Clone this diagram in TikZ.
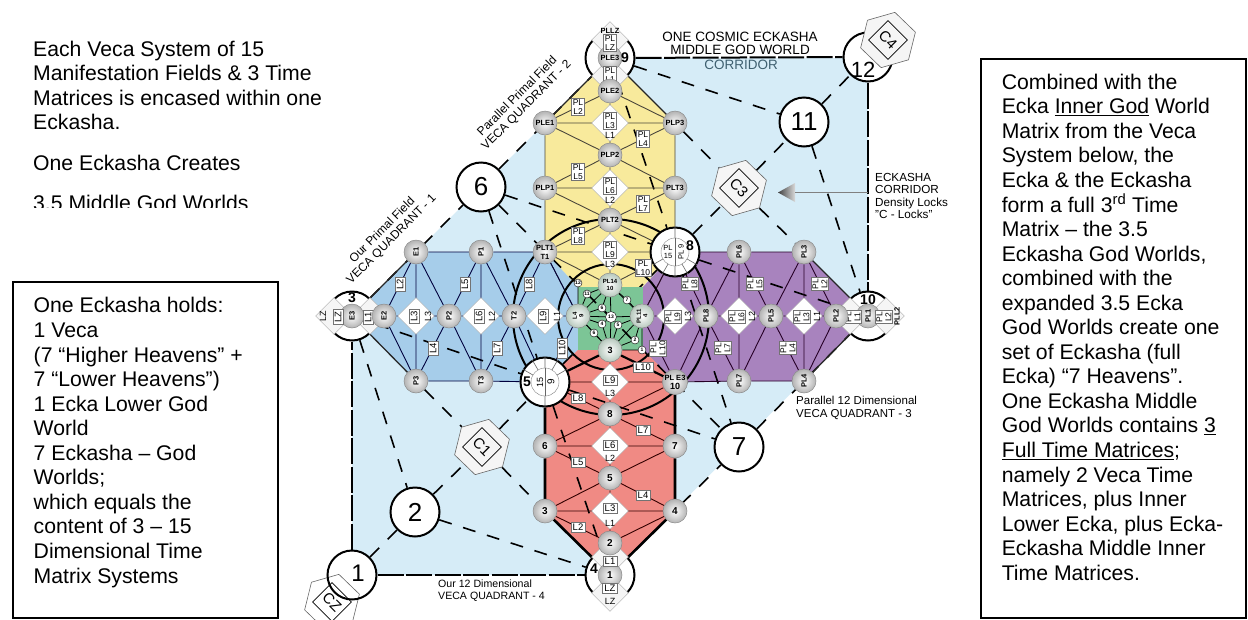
\documentclass[tikz,border=0pt]{standalone}
\usepackage{fontspec}
\setmainfont{Liberation Sans}
\usetikzlibrary{shapes.geometric,backgrounds}
\definecolor{skyfill}{HTML}{D6ECF7}
\definecolor{bluefill}{HTML}{A6CDEA}
\definecolor{yellowfill}{HTML}{F8EA9C}
\definecolor{redfill}{HTML}{F08A84}
\definecolor{purplefill}{HTML}{A883BE}
\definecolor{greenfill}{HTML}{7CC596}
\definecolor{corridorink}{HTML}{3F6070}
\tikzset{
  bodytext/.style={anchor=north west,align=left,inner sep=0pt,font=\fontsize{21.2}{24.55}\selectfont},
  textbox/.style={draw,line width=2pt,anchor=north west,inner sep=0pt},
  ball/.style={circle,draw=black!45,line width=.5pt,inner sep=0pt,minimum size=24pt,align=center,
    inner color=white,outer color=black!30,font=\fontsize{7.5}{8}\selectfont\bfseries},
  rball/.style={ball,rotate=90},
  numball/.style={ball,font=\fontsize{10}{10}\selectfont\bfseries},
  greenball/.style={ball,inner color=white,outer color=greenfill!60!black!40,font=\fontsize{6}{6.5}\selectfont\bfseries},
  smallball/.style={circle,draw=black,line width=.4pt,fill=white,inner sep=0pt,minimum size=8pt,font=\fontsize{5}{5}\selectfont\bfseries},
  ring/.style={circle,draw=black,line width=2pt,minimum size=49pt,inner sep=0pt},
  bignum/.style={ring,fill=white,font=\fontsize{26}{26}\selectfont},
  dia/.style={diamond,aspect=1,draw=black!35,line width=.4pt,fill=white,inner sep=0pt,minimum size=37pt},
  tag/.style={rectangle,draw=black!55,line width=.4pt,fill=white,inner sep=1.2pt,align=center,font=\fontsize{8.5}{9}\selectfont},
  ltag/.style={tag,inner sep=1.8pt,font=\fontsize{9.5}{10}\selectfont},
  rtag/.style={tag,rotate=90},
  rltag/.style={ltag,rotate=90},
  plain/.style={inner sep=0pt,align=center,font=\fontsize{9}{9.5}\selectfont},
  rplain/.style={plain,rotate=90},
  bold/.style={inner sep=0pt,font=\fontsize{14}{14}\selectfont\bfseries},
  caption/.style={inner sep=0pt,align=left,font=\fontsize{10.6}{12}\selectfont},
  hexa/.style={regular polygon,regular polygon sides=6,draw=black!60,line width=.6pt,fill=white!96!black,minimum size=57pt,inner sep=0pt,rotate=16},
  hexbox/.style={diamond,aspect=1,draw=black,line width=.6pt,inner sep=0pt,minimum size=39pt},
  hextext/.style={inner sep=0pt,rotate=-45,font=\fontsize{15}{15}\selectfont},
  corridor/.style={line width=1.6pt,dash pattern=on 13pt off 12pt},
  frameline/.style={line width=2pt,dash pattern=on 26pt off 2.5pt},
  spoke/.style={draw=black!60,line width=.6pt}
}
\begin{document}
\begin{tikzpicture}[x=1pt,y=-1pt]
\useasboundingbox (0,0) rectangle (1248,619);

% text blocks
\node[bodytext] (topa) at (33,40.7) {Each Veca System of 15\\Manifestation Fields \& 3 Time\\Matrices is encased within one\\Eckasha.};
\node[bodytext] (topb) at (33,154.7) {One Eckasha Creates};
\node[bodytext] (topc) at (33,195) {3.5 Middle God Worlds};
\fill[white] (20,208) rectangle (340,225);
\node[textbox,minimum width=265pt,minimum height=336pt] (leftbox) at (12,281) {};
\node[bodytext] (lefttext) at (33.5,297.4) {One Eckasha holds:\\1 Veca\\(7 “Higher Heavens” +\\7 “Lower Heavens”)\\1 Ecka Lower God\\World\\7 Eckasha – God\\Worlds;\\which equals the\\content of 3 – 15\\Dimensional Time\\Matrix Systems};
\node[textbox,minimum width=265pt,minimum height=559pt] (rightbox) at (980,58) {};
\node[bodytext] (righttext) at (1001.6,73.7) {Combined with the\\Ecka \underline{Inner God} World\\Matrix from the Veca\\System below, the\\Ecka \& the Eckasha\\form a full 3\textsuperscript{rd} Time\\Matrix – the 3.5\\Eckasha God Worlds,\\combined with the\\expanded 3.5 Ecka\\God Worlds create one\\set of Eckasha (full\\Ecka) “7 Heavens”.\\One Eckasha Middle\\God Worlds contains \underline{3}\\\underline{Full Time Matrices};\\namely 2 Veca Time\\Matrices, plus Inner\\Lower Ecka, plus Ecka-\\Eckasha Middle Inner\\Time Matrices.};

% captions
\node[inner sep=0pt,font=\fontsize{13.5}{14}\selectfont] (capa) at (740,37) {ONE COSMIC ECKASHA};
\node[inner sep=0pt,font=\fontsize{13.5}{14}\selectfont] (capb) at (740,50) {MIDDLE GOD WORLD};
\node[inner sep=0pt,text=corridorink,font=\fontsize{13.5}{14}\selectfont] (capc) at (741,65) {CORRIDOR};
\node[caption,align=center,rotate=45,font=\fontsize{12}{13}\selectfont] (capq1) at (387,235) {Our Primal Field\\VECA QUADRANT - 1};
\node[caption,align=center,rotate=45,font=\fontsize{12}{13}\selectfont] (capq2) at (522,101) {Parallel Primal Field\\VECA QUADRANT - 2};
\node[caption,anchor=west,font=\fontsize{11.5}{12.5}\selectfont] (capq3) at (796,408) {Parallel 12 Dimensional\\VECA QUADRANT - 3};
\node[caption,anchor=west] (capq4) at (438,591) {Our 12 Dimensional\\VECA QUADRANT - 4};
\node[caption,anchor=west,font=\fontsize{11.7}{12.6}\selectfont] (capd) at (875,196) {ECKASHA\\CORRIDOR\\Density Locks\\"C - Locks"};

% corner rings with their stacks
\node[ring,fill=white] (c9) at (610,58) {};
\node[ring,fill=white] (c12) at (868,57) {};
\node[ring,fill=white] (c3) at (352,316) {};
\node[ring,fill=white] (c10) at (868,316) {};
\node[ring,fill=white] (c4) at (610,575) {};
\node[dia,fill=black!4] (da9) at (610,40) {};
\node[dia,fill=black!4] (db9) at (610,76) {};
\node[dia,fill=black!4] (da4) at (610,557) {};
\node[dia,fill=black!4] (db4) at (610,593) {};
\node[dia,fill=black!4] (da3) at (334,316) {};
\node[dia,fill=black!4] (db3) at (370,316) {};
\node[dia,fill=black!4] (da10) at (850,316) {};
\node[dia,fill=black!4] (db10) at (886,316) {};
\node[ball] (PLE3) at (610,58) {PLE3};
\node[plain,font=\fontsize{7.5}{8}\selectfont\bfseries] (tz9) at (610,31) {PLLZ};
\node[tag] (bz9) at (610,43) {PL\\LZ};
\node[tag] (bl9) at (610,75) {PL\\L1};
\node[bold] (n9) at (625,58) {9};
\node[numball] (sp4) at (610,575) {1};
\node[ltag] (bl4) at (610,561) {L1};
\node[ltag] (bz4) at (610,588) {LZ};
\node[plain] (tz4) at (610,601) {LZ};
\node[bold] (n4) at (594,569) {4};
\node[rball] (E3) at (352,316) {E3};
\node[rltag] (bz3) at (338,317) {LZ};
\node[rltag] (bl3) at (368,317) {L1};
\node[rplain] (tz3) at (323,316) {LZ};
\node[bold] (n3) at (352,298) {3};
\node[rball] (PL1) at (868,316) {PL1};
\node[rtag] (bl10) at (853,317) {PL\\L1};
\node[rtag] (bz10) at (884,317) {PL\\L2};
\node[rplain,font=\fontsize{7.5}{8}\selectfont\bfseries] (tz10) at (897,316) {PLL2};
\node[bold] (n10) at (868,300) {10};

% numbered rings and C hexagons
\node[bignum] (c2) at (415,512) {2};
\node[bignum] (c6) at (481,187) {6};
\node[bignum] (c7) at (739,447) {7};
\node[bignum] (c11) at (804,122) {11};
\node[hexa] (hC1) at (482,447) {};
\node[hexbox] (bC1) at (482,447) {};
\node[hextext] (tC1) at (482,447) {C1};
\node[hexa] (hC3) at (739,188) {};
\node[hexbox] (bC3) at (739,188) {};
\node[hextext] (tC3) at (739,188) {C3};
\node[hexa] (hC4) at (888,40) {};
\node[hexbox] (bC4) at (888,40) {};
\node[hextext] (tC4) at (888,40) {C4};
\node[inner sep=0pt,font=\fontsize{22}{22}\selectfont] (n12) at (863,70) {12};
\node[circle,fill=white,minimum size=48pt,inner sep=0pt] (c1back) at (352,575) {};
\node[hexa,fill=none] (hC2) at (332,602) {};
\node[hexbox] (bC2) at (332,602) {};
\node[hextext] (tC2) at (332,602) {CZ};
\node[ring] (c1) at (352,575) {};
\node[inner sep=0pt,font=\fontsize{24}{24}\selectfont] (n1) at (358,573) {1};

% rings on the arcs
\node[ring,fill=white] (c5) at (545,382) {};
\node[ring,fill=white] (c8) at (675,252) {};
\draw[spoke] (c5.90) -- (c5.270) (c5.center) -- (c5.150) (c5.center) -- (c5.30) (c5.center) -- (c5.120) (c5.center) -- (c5.60);
\draw[spoke] (c8.90) -- (c8.270) (c8.center) -- (c8.210) (c8.center) -- (c8.240) (c8.center) -- (c8.300) (c8.center) -- (c8.330);
\node[circle,draw=black!50,fill=white,minimum size=28pt,inner sep=0pt] (i5) at (545,382) {};
\node[circle,draw=black!50,fill=white,minimum size=28pt,inner sep=0pt] (i8) at (675,252) {};
\draw[spoke] (i5.90) -- (i5.270);
\draw[spoke] (i8.90) -- (i8.270);
\node[rplain,font=\fontsize{9}{9}\selectfont] (t15) at (540,382) {15};
\node[rplain,font=\fontsize{10}{10}\selectfont] (t9) at (551,382) {9};
\node[bold] (n5) at (527,382) {5};
\node[plain,font=\fontsize{7.5}{8}\selectfont] (tpl15) at (668,252) {PL\\15};
\node[rplain,font=\fontsize{7.5}{8}\selectfont] (tpl9) at (681,252) {PL 9};
\node[bold] (n8) at (690,246) {8};

% yellow quadrant
\node[ball] (PLE2) at (610,91) {PLE2};
\node[ball] (PLE1) at (545,123) {PLE1};
\node[ball] (PLP3) at (675,123) {PLP3};
\node[ball] (PLP2) at (610,155) {PLP2};
\node[ball] (PLP1) at (545,188) {PLP1};
\node[ball] (PLT3) at (675,188) {PLT3};
\node[ball] (PLT2) at (610,220) {PLT2};
\node[ball] (PLT1) at (545,252) {PLT1\\[1pt]T1};
\node[dia] (dy1) at (610,123) {};
\node[dia] (dy2) at (610,188) {};
\node[dia] (dy3) at (610,252) {};
\node[tag] (by1) at (610,121) {PL\\L3};
\node[tag] (by2) at (610,186) {PL\\L6};
\node[tag] (by3) at (610,250) {PL\\L9};
\node[plain] (ty1) at (610,135) {L1};
\node[plain] (ty2) at (610,200) {L2};
\node[plain] (ty3) at (610,264) {L3};
\node[tag] (ey2) at (578,107) {PL\\L2};
\node[tag] (ey4) at (643,139) {PL\\L4};
\node[tag] (ey5) at (578,172) {PL\\L5};
\node[tag] (ey7) at (643,204) {PL\\L7};
\node[tag] (ey8) at (578,236) {PL\\L8};
\node[tag] (ey10) at (643,268) {PL\\L10};

% blue quadrant
\node[rball] (E1) at (416,252) {E1};
\node[rball] (P1) at (481,252) {P1};
\node[rball] (E2) at (384,316) {E2};
\node[rball] (P2) at (449,316) {P2};
\node[rball] (T2) at (514,316) {T2};
\node[rball] (P3) at (416,381) {P3};
\node[rball] (T3) at (481,381) {T3};
\node[dia] (db1) at (416,316) {};
\node[dia] (db2) at (481,316) {};
\node[dia] (db3) at (545,316) {};
\node[rltag] (bb1) at (414,316) {L3};
\node[rltag] (bb2) at (479,316) {L6};
\node[rltag] (bb3) at (543,316) {L9};
\node[rplain] (tb1) at (428,316) {L3};
\node[rplain] (tb2) at (492,316) {L2};
\node[rplain] (tb3) at (557,316) {L1};
\node[rltag] (eb2) at (400,284) {L2};
\node[rltag] (eb5) at (465,284) {L5};
\node[rltag] (eb8) at (529,284) {L8};
\node[rltag] (eb4) at (433,348) {L4};
\node[rltag] (eb7) at (497,348) {L7};
\node[rltag] (eb10) at (562,348) {L10};

% red quadrant
\node[numball] (r2) at (610,543) {2};
\node[numball] (r3) at (545,511) {3};
\node[numball] (r4) at (675,511) {4};
\node[numball] (r5) at (610,478) {5};
\node[numball] (r6) at (545,446) {6};
\node[numball] (r7) at (675,446) {7};
\node[numball] (r8) at (610,414) {8};
\node[ball] (r10) at (675,382) {PL E3\\[1pt]{\fontsize{9}{9}\selectfont 10}};
\node[dia] (dr1) at (610,511) {};
\node[dia] (dr2) at (610,446) {};
\node[dia] (dr3) at (610,382) {};
\node[ltag] (br1) at (610,508) {L3};
\node[ltag] (br2) at (610,445) {L6};
\node[ltag] (br3) at (610,380) {L9};
\node[plain] (tr1) at (610,523) {L1};
\node[plain] (tr2) at (610,458) {L2};
\node[plain] (tr3) at (610,393) {L3};
\node[ltag] (er2) at (578,527) {L2};
\node[ltag] (er4) at (643,495) {L4};
\node[ltag] (er5) at (578,462) {L5};
\node[ltag] (er7) at (643,430) {L7};
\node[ltag] (er8) at (578,398) {L8};
\node[ltag] (er10) at (643,367) {L10};

% purple quadrant
\node[rball] (PL2) at (836,316) {PL2};
\node[rball] (PL5) at (771,316) {PL5};
\node[rball] (PL8) at (706,316) {PL8};
\node[rball] (PL3) at (804,252) {PL3};
\node[rball] (PL6) at (739,252) {PL6};
\node[rball] (PL4) at (804,381) {PL4};
\node[rball] (PL7) at (739,381) {PL7};
\node[dia] (dp1) at (804,316) {};
\node[dia] (dp2) at (739,316) {};
\node[dia] (dp3) at (675,316) {};
\node[rtag] (bp1) at (802,317) {PL\\L3};
\node[rtag] (bp2) at (737,317) {PL\\L6};
\node[rtag] (bp3) at (673,317) {PL\\L9};
\node[rplain] (tp1) at (817,316) {L1};
\node[rplain] (tp2) at (752,316) {L2};
\node[rplain] (tp3) at (688,316) {L3};
\node[rtag] (ep2) at (820,284) {PL\\L2};
\node[rtag] (ep5) at (755,284) {PL\\L5};
\node[rtag] (ep8) at (690,284) {PL\\L8};
\node[rtag] (ep4) at (788,348) {PL\\L4};
\node[rtag] (ep7) at (723,348) {PL\\L7};
\node[rtag] (ep10) at (658,348) {PL\\L10};

% green centre
\node[greenball] (gT) at (610,285) {PL14\\10};
\node[greenball,rotate=90] (gL) at (578,316) {L4\\9};
\node[greenball,rotate=90] (gR) at (642,316) {PL11\\4};
\node[greenball,font=\fontsize{9}{9}\selectfont\bfseries] (gB) at (610,350) {3};
\node[smallball] (g12) at (578,283) {12};
\node[smallball] (g11) at (587,294) {11};
\node[smallball] (g7) at (627,300) {7};
\node[smallball] (g6) at (602,308) {6};
\node[smallball,minimum size=11pt] (g13) at (611,317) {13};
\node[smallball] (g4) at (602,324) {4};
\node[smallball] (g5) at (618,325) {5};
\node[smallball] (g8) at (594,333) {6};
\node[smallball] (g2) at (635,340) {2};
\node[smallball] (g1) at (642,350) {1};

% the arrow at the corridor
\coordinate (arrowbase) at (795,192);
\coordinate (arrowend) at (868,192);
\shade[left color=black!75,right color=black!15] (778,192.5) -- (795,183) -- (795,202) -- cycle;
\draw[black!50,line width=.6pt] (arrowbase) -- (arrowend);

\begin{scope}[on background layer]
  % regions
  \fill[skyfill] (352,316) -- (610,58) -- (868,58) -- (868,316) -- (610,575) -- (352,575) -- cycle;
  \fill[yellowfill] (545,123) -- (610,58) -- (675,123) -- (675,252) -- (633,297) -- (578,287) -- (545,252) -- cycle;
  \fill[bluefill] (352,316) -- (416,252) -- (545,252) -- (578,287) -- (578,350) -- (545,381) -- (416,381) -- cycle;
  \fill[purplefill] (868,316) -- (804,252) -- (675,252) -- (643,287) -- (643,350) -- (675,381) -- (804,381) -- cycle;
  \fill[redfill] (610,575) -- (545,511) -- (545,381) -- (578,350) -- (643,350) -- (675,381) -- (675,511) -- cycle;
  \draw[corridor] (c5) -- (c8);
  \fill[greenfill] (578,287) rectangle (643,350);
  % frame
  \draw[frameline] (c1) -- (c4);
  \draw[frameline] (c1) -- (c3);
  \draw[frameline] (c9) -- (c12);
  \draw[frameline] (c12) -- (c10);
  % corridor lines
  \draw[corridor] (c1) -- (c2);
  \draw[corridor] (c2) -- (hC1);
  \draw[corridor] (hC1) -- (c5);
  \draw[corridor] (c8) -- (hC3);
  \draw[corridor] (hC3) -- (c11);
  \draw[corridor] (c11) -- (c12);
  \draw[corridor] (c3) -- (c6);
  \draw[corridor] (c6) -- (c9);
  \draw[corridor] (c4) -- (c7);
  \draw[corridor] (c7) -- (c10);
  \draw[corridor] (c3) -- (c2);
  \draw[corridor] (c2) -- (c4);
  \draw[corridor] (c9) -- (c11);
  \draw[corridor] (c11) -- (c10);
  \draw[corridor] (c3) -- (c5);
  \draw[corridor] (c6) -- (c5);
  \draw[corridor] (c6) -- (c8);
  \draw[corridor] (c9) -- (c8);
  \draw[corridor] (c8) -- (c10);
  \draw[corridor] (c8) -- (c7);
  \draw[corridor] (c5) -- (c7);
  \draw[corridor] (c5) -- (c4);
  \draw[corridor] (c6) -- (c7);
  \draw[corridor] (P3) -- (hC1);
  \draw[corridor] (hC1) -- (r3);
  \draw[corridor] (PLP3) -- (hC3);
  \draw[corridor] (hC3) -- (PL3);
  % yellow edges
  \begin{scope}[draw=black!70!yellow!60!black,line width=.9pt]
    \draw (PLE2) -- (PLE1) (PLE2) -- (PLP3) (PLE2) -- (PLP2) (PLE1) -- (PLP3) (PLE1) -- (PLP2) (PLP3) -- (PLP2);
    \draw (PLE1) -- (PLP1) (PLP3) -- (PLT3) (PLP2) -- (PLP1) (PLP2) -- (PLT3) (PLP1) -- (PLT3) (PLP1) -- (PLT2);
    \draw (PLT3) -- (PLT2) (PLP2) -- (PLT2) (PLP1) -- (PLT1) (PLT3) -- (c8) (PLT1) -- (PLT2) (PLT2) -- (c8);
    \draw (PLT1) -- (c8) (PLT1) -- (gT) (c8) -- (gT) (PLT2) -- (gT) (PLT1) -- (gL) (c8) -- (gR);
  \end{scope}
  \draw[line width=1.3pt,black!85] (c9) -- (PLE1) (c9) -- (PLP3);
  % blue edges
  \begin{scope}[draw=black!60!blue!60!black,line width=.9pt]
    \draw (E1) -- (P1) (P1) -- (PLT1) (P3) -- (T3) (T3) -- (c5) (E1) -- (E2) (E1) -- (P2) (E1) -- (P3) (E2) -- (P3);
    \draw (E2) -- (P2) (P2) -- (T2) (T2) -- (gL) (P1) -- (P2) (P1) -- (T2) (P1) -- (T3) (P2) -- (T3) (P2) -- (P3);
    \draw (T2) -- (T3) (T2) -- (PLT1) (T2) -- (c5) (PLT1) -- (gL) (c5) -- (gL);
  \end{scope}
  \draw[line width=1.3pt,black!85] (c3) -- (E1) (c3) -- (P3);
  % red edges
  \begin{scope}[draw=black!80!red,line width=.9pt]
    \draw (r2) -- (r3) (r2) -- (r4) (r2) -- (r5) (r3) -- (r4) (r3) -- (r5) (r4) -- (r5) (r5) -- (r6) (r5) -- (r7);
    \draw (r5) -- (r8) (r6) -- (r7) (r6) -- (r8) (r7) -- (r8) (r8) -- (c5) (r8) -- (r10) (c5) -- (r10) (r8) -- (gB);
  \end{scope}
  \draw[line width=2.6pt] (c4) -- (r3) (c4) -- (r4) (r3) -- (r6) (r6) -- (c5) (r4) -- (r7) (r7) -- (r10);
  \draw[line width=2.2pt] (c5) -- (gB) (gB) -- (r10);
  % purple edges
  \begin{scope}[draw=black!70!violet,line width=.9pt]
    \draw (PL3) -- (PL6) (PL6) -- (c8) (PL4) -- (PL7) (PL7) -- (r10) (PL2) -- (PL3) (PL2) -- (PL4) (PL3) -- (PL4) (PL3) -- (PL5);
    \draw (PL5) -- (PL4) (PL2) -- (PL5) (PL5) -- (PL8) (PL5) -- (PL6) (PL5) -- (PL7) (PL6) -- (PL7) (PL6) -- (PL8);
    \draw (PL7) -- (PL8) (PL8) -- (c8) (PL8) -- (r10) (PL8) -- (gR) (c8) -- (gR) (r10) -- (gR);
  \end{scope}
  \draw[line width=1.3pt,black!85] (c10) -- (PL3) (c10) -- (PL4);
  % green edges
  \begin{scope}[line width=.8pt]
    \draw (gL) -- (g12) (gL) -- (g11) (gL) -- (g6) (gL) -- (g4) (gL) -- (g8) (gL) -- (g13);
    \draw (gT) -- (g11) (gT) -- (g7) (gT) -- (g6) (gT) -- (g13) (gR) -- (g7) (gR) -- (g5) (gR) -- (g2) (gR) -- (g13) (gR) -- (g1);
    \draw (gB) -- (g4) (gB) -- (g5) (gB) -- (g8) (gB) -- (g2) (gB) -- (g1) (gB) -- (g13) (g6) -- (g13) (g4) -- (g13) (g5) -- (g13);
    \draw (gL) -- (gT) (gT) -- (gR) (gR) -- (gB) (gB) -- (gL);
  \end{scope}
  % arcs round the centre
  \draw[line width=2pt] (g13.center) circle (98pt);
  \draw[line width=2pt] (g13.center) circle (53pt);
\end{scope}
\end{tikzpicture}
\end{document}
